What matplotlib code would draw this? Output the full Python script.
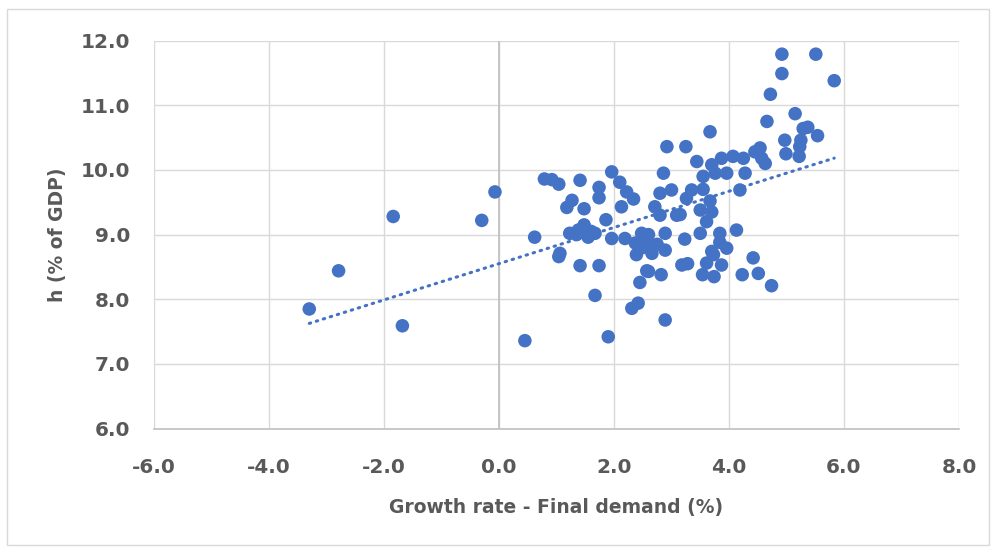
import numpy as np
import matplotlib
matplotlib.use("Agg")
import matplotlib.pyplot as plt
from matplotlib.patches import Rectangle

# Growth rate of final demand (%) and h (% of GDP)
growth = [
    -3.30, -2.79, -1.84, -1.68, -0.30, -0.07, 0.45, 0.62, 0.79, 0.92,
    1.04, 1.41, 1.96, 2.10, 2.22, 2.34, 1.74, 1.74, 1.27, 1.18,
    1.48, 2.13, 1.86, 1.48, 1.23, 1.38, 1.55, 1.67, 1.96, 2.19,
    2.37, 2.48, 1.06, 1.04, 1.41, 1.74, 1.67, 1.90, 2.31, 2.42,
    2.45, 2.57, 2.39, 2.50, 2.92, 3.25, 3.44, 2.86, 3.70, 3.87,
    4.07, 4.25, 4.45, 3.55, 3.76, 3.96, 4.28, 4.19, 2.80, 3.00,
    3.35, 3.55, 3.26, 3.67, 2.71, 2.80, 3.09, 3.50, 3.70, 3.61,
    2.89, 2.60, 3.50, 3.84, 4.13, 3.23, 3.84, 2.66, 2.89, 3.70,
    3.96, 4.42, 2.66, 2.60, 2.82, 3.18, 3.28, 3.61, 3.73, 3.87,
    3.54, 3.74, 4.23, 4.51, 2.89, 4.74, 4.92, 5.51, 4.92, 5.83,
    4.72, 4.66, 5.15, 5.29, 5.37, 5.54, 4.97, 5.25, 5.23, 4.99,
    5.22, 4.54, 4.57, 4.63, 3.67, 2.55, 2.75, 1.35, 1.60, 3.15,
]
h_share = [
    7.85, 8.44, 9.28, 7.59, 9.22, 9.66, 7.36, 8.96, 9.86, 9.85,
    9.78, 9.84, 9.97, 9.81, 9.66, 9.55, 9.73, 9.57, 9.53, 9.42,
    9.40, 9.43, 9.23, 9.15, 9.02, 9.07, 8.96, 9.02, 8.94, 8.94,
    8.87, 9.02, 8.71, 8.66, 8.52, 8.52, 8.06, 7.42, 7.86, 7.94,
    8.26, 8.44, 8.69, 8.80, 10.36, 10.36, 10.13, 9.95, 10.08, 10.18,
    10.21, 10.18, 10.28, 9.90, 9.95, 9.95, 9.95, 9.69, 9.64, 9.69,
    9.69, 9.70, 9.56, 9.52, 9.43, 9.30, 9.30, 9.38, 9.35, 9.20,
    9.02, 9.00, 9.02, 9.02, 9.07, 8.93, 8.88, 8.81, 8.76, 8.74,
    8.79, 8.64, 8.71, 8.43, 8.38, 8.53, 8.55, 8.56, 8.69, 8.53,
    8.38, 8.35, 8.38, 8.40, 7.68, 8.21, 11.79, 11.79, 11.49, 11.38,
    11.17, 10.75, 10.87, 10.64, 10.66, 10.53, 10.46, 10.46, 10.36, 10.25,
    10.21, 10.34, 10.18, 10.10, 10.59, 8.90, 8.85, 9.00, 9.05, 9.31,
]

x_ticks = [-6.0, -4.0, -2.0, 0.0, 2.0, 4.0, 6.0, 8.0]
y_ticks = [6.0, 7.0, 8.0, 9.0, 10.0, 11.0, 12.0]

BLUE = "#4472C4"
TEXT = "#595959"
GRID = "#D9D9D9"
AXIS = "#BFBFBF"

W, H = 993, 547
fig = plt.figure(figsize=(W / 100, H / 100), dpi=100)
fig.patch.set_facecolor("white")

# chart-area border
fig.add_artist(Rectangle((7 / W, 1 - 545 / H), (989 - 7) / W, (545 - 9) / H,
                         transform=fig.transFigure, fill=False,
                         edgecolor="#D9D9D9", linewidth=1.0))

left, right, top, bottom = 154, 959, 40.6, 428.6
ax = fig.add_axes([left / W, 1 - bottom / H, (right - left) / W, (bottom - top) / H])

ax.set_xlim(-6, 8)
ax.set_ylim(6, 12)
ax.set_xticks(x_ticks)
ax.set_yticks(y_ticks)
ax.set_xticklabels([f"{v:.1f}" for v in x_ticks])
ax.set_yticklabels([f"{v:.1f}" for v in y_ticks])

ax.grid(True, color=GRID, linewidth=1.0, zorder=0)
ax.set_axisbelow(True)
ax.axvline(0, color=AXIS, linewidth=1.2, zorder=1)

for side in ("top", "right", "left"):
    ax.spines[side].set_visible(False)
ax.spines["bottom"].set_color(AXIS)
ax.spines["bottom"].set_linewidth(1.2)
ax.tick_params(length=0, labelsize=14.4, colors=TEXT)
ax.tick_params(axis="y", pad=17)
ax.tick_params(axis="x", pad=21)
for lbl in ax.get_xticklabels() + ax.get_yticklabels():
    lbl.set_fontweight("bold")

ax.scatter(growth, h_share, s=95, color=BLUE, edgecolors="none", zorder=3)

# linear trend line over the data range
gx = np.asarray(growth)
gy = np.asarray(h_share)
slope, intercept = np.polyfit(gx, gy, 1)
tx = np.array([gx.min(), gx.max()])
ax.plot(tx, slope * tx + intercept, color=BLUE, linewidth=2.2,
        linestyle=(0, (0.5, 1.9)), dash_capstyle="round", zorder=2)

fig.text(556 / W, 1 - 508 / H, "Growth rate - Final demand (%)", ha="center",
         va="center", fontsize=13.5, fontweight="bold", color=TEXT)
fig.text(57 / W, 1 - 235 / H, "h (% of GDP)", ha="center", va="center",
         rotation=90, fontsize=13.5, fontweight="bold", color=TEXT)

fig.savefig("out.png", dpi=100, facecolor="white")
